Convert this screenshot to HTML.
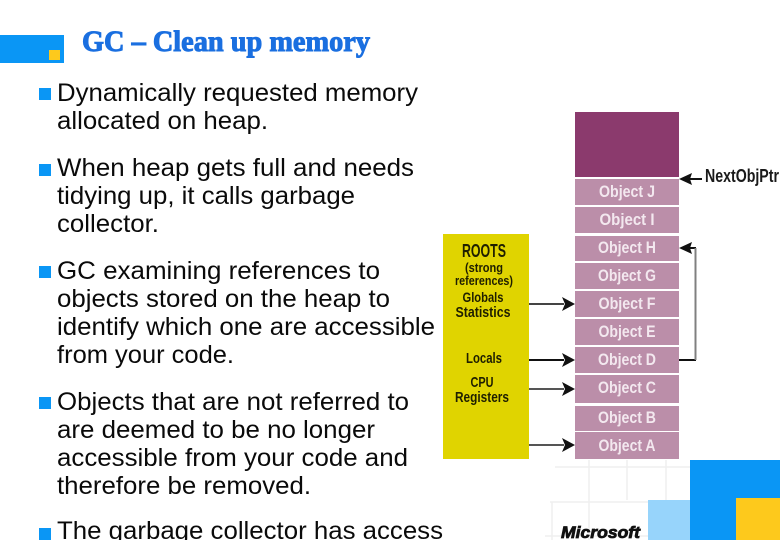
<!DOCTYPE html>
<html><head><meta charset="utf-8"><style>
html,body{margin:0;padding:0;background:#fff;width:780px;height:540px;overflow:hidden}
svg{display:block}
.t{font-family:"Liberation Sans",sans-serif;font-size:24.6px;fill:#0a0a0a}
.o{font-family:"Liberation Sans",sans-serif;font-size:17px;font-weight:bold;fill:#f3e8ef;text-anchor:middle}
.r{font-family:"Liberation Sans",sans-serif;font-weight:bold;fill:#1f1f00;text-anchor:middle}
</style></head><body>
<svg width="780" height="540" viewBox="0 0 780 540" xmlns="http://www.w3.org/2000/svg">
<rect x="0" y="35" width="64" height="28" fill="#0a96f5"/>
<rect x="49" y="50" width="11" height="10" fill="#fdc91c"/>
<text x="82" y="51" font-family="'Liberation Serif',serif" font-size="30" font-weight="bold" fill="#1a6fe0" stroke="#1a6fe0" stroke-width="1" textLength="288" lengthAdjust="spacingAndGlyphs">GC – Clean up memory</text>

<g fill="#0a96f5">
<rect x="39" y="88" width="12" height="12"/><rect x="39" y="164" width="12" height="12"/><rect x="39" y="266" width="12" height="12"/><rect x="39" y="397" width="12" height="12"/><rect x="39" y="528" width="12" height="12"/>
</g>
<g class="t">
<text class="t" x="57" y="101" textLength="361" lengthAdjust="spacingAndGlyphs">Dynamically requested memory</text>
<text class="t" x="57" y="129" textLength="211" lengthAdjust="spacingAndGlyphs">allocated on heap.</text>
<text class="t" x="57" y="176" textLength="357" lengthAdjust="spacingAndGlyphs">When heap gets full and needs</text>
<text class="t" x="57" y="204" textLength="298" lengthAdjust="spacingAndGlyphs">tidying up, it calls garbage</text>
<text class="t" x="57" y="232" textLength="102" lengthAdjust="spacingAndGlyphs">collector.</text>
<text class="t" x="57" y="279" textLength="323" lengthAdjust="spacingAndGlyphs">GC examining references to</text>
<text class="t" x="57" y="307" textLength="333" lengthAdjust="spacingAndGlyphs">objects stored on the heap to</text>
<text class="t" x="57" y="335" textLength="378" lengthAdjust="spacingAndGlyphs">identify which one are accessible</text>
<text class="t" x="57" y="363" textLength="177" lengthAdjust="spacingAndGlyphs">from your code.</text>
<text class="t" x="57" y="410" textLength="352" lengthAdjust="spacingAndGlyphs">Objects that are not referred to</text>
<text class="t" x="57" y="438" textLength="318" lengthAdjust="spacingAndGlyphs">are deemed to be no longer</text>
<text class="t" x="57" y="466" textLength="351" lengthAdjust="spacingAndGlyphs">accessible from your code and</text>
<text class="t" x="57" y="494" textLength="254" lengthAdjust="spacingAndGlyphs">therefore be removed.</text>
<text class="t" x="57" y="539" textLength="386" lengthAdjust="spacingAndGlyphs">The garbage collector has access</text>
</g>

<!-- grid -->
<g stroke="#efefef" stroke-width="1.5" fill="none">
<path d="M555 467H690M550 502H648M545 536H650M552 502V540M589 460V540M627 460V500M666 460V500"/>
</g>
<rect x="690" y="460" width="90" height="80" fill="#0a96f5"/>
<rect x="648" y="500" width="42" height="40" fill="#97d4fb"/>
<rect x="736" y="498" width="44" height="42" fill="#fdc91c"/>
<text x="561" y="538" font-family="'Liberation Sans',sans-serif" font-size="17" font-weight="bold" font-style="italic" fill="#111" stroke="#111" stroke-width="0.8" textLength="79" lengthAdjust="spacingAndGlyphs">Microsoft</text>

<!-- heap -->
<rect x="575" y="112" width="104" height="65" fill="#8b3a6d"/>
<g fill="#bb8ea9">
<rect x="575" y="179" width="104" height="26"/>
<rect x="575" y="207" width="104" height="26"/>
<rect x="575" y="236" width="104" height="25"/>
<rect x="575" y="263" width="104" height="26"/>
<rect x="575" y="291" width="104" height="26"/>
<rect x="575" y="319" width="104" height="26"/>
<rect x="575" y="347" width="104" height="26"/>
<rect x="575" y="375" width="104" height="28"/>
<rect x="575" y="406" width="104" height="25"/>
<rect x="575" y="432" width="104" height="27"/>
</g>
<g class="o">
<text class="o" x="627" y="197" textLength="56" lengthAdjust="spacingAndGlyphs">Object J</text>
<text class="o" x="627" y="225" textLength="55" lengthAdjust="spacingAndGlyphs">Object I</text>
<text class="o" x="627" y="253" textLength="58" lengthAdjust="spacingAndGlyphs">Object H</text>
<text class="o" x="627" y="281" textLength="58" lengthAdjust="spacingAndGlyphs">Object G</text>
<text class="o" x="627" y="309" textLength="57" lengthAdjust="spacingAndGlyphs">Object F</text>
<text class="o" x="627" y="337" textLength="57" lengthAdjust="spacingAndGlyphs">Object E</text>
<text class="o" x="627" y="365" textLength="58" lengthAdjust="spacingAndGlyphs">Object D</text>
<text class="o" x="627" y="393" textLength="58" lengthAdjust="spacingAndGlyphs">Object C</text>
<text class="o" x="627" y="423" textLength="58" lengthAdjust="spacingAndGlyphs">Object B</text>
<text class="o" x="627" y="451" textLength="57" lengthAdjust="spacingAndGlyphs">Object A</text>
</g>

<!-- roots -->
<rect x="443" y="234" width="86" height="225" fill="#e0d400"/>
<text class="r" x="484" y="257" font-size="18" textLength="44" lengthAdjust="spacingAndGlyphs">ROOTS</text>
<text class="r" x="484" y="272" font-size="13" textLength="38" lengthAdjust="spacingAndGlyphs">(strong</text>
<text class="r" x="484" y="285" font-size="13" textLength="58" lengthAdjust="spacingAndGlyphs">references)</text>
<text class="r" x="483" y="302" font-size="14" textLength="41" lengthAdjust="spacingAndGlyphs">Globals</text>
<text class="r" x="483" y="317" font-size="15" textLength="55" lengthAdjust="spacingAndGlyphs">Statistics</text>
<text class="r" x="484" y="363" font-size="15" textLength="36" lengthAdjust="spacingAndGlyphs">Locals</text>
<text class="r" x="482" y="387" font-size="15" textLength="23" lengthAdjust="spacingAndGlyphs">CPU</text>
<text class="r" x="482" y="402" font-size="15" textLength="54" lengthAdjust="spacingAndGlyphs">Registers</text>

<!-- arrows -->
<g fill="#111">
<path d="M529 303h35v2h-35z" fill="#444"/><path d="M562 297L575 304L562 311L565 304Z"/>
<path d="M529 359h35v2h-35z"/><path d="M562 353L575 360L562 367L565 360Z"/>
<path d="M529 388h35v2h-35z" fill="#555"/><path d="M562 382L575 389L562 396L565 389Z"/>
<path d="M529 444h35v2h-35z" fill="#555"/><path d="M562 438L575 445L562 452L565 445Z"/>
<path d="M679 248L692 242L690 248L692 254Z"/>
<path d="M679 179L692 173L690 179L692 185Z"/>
<path d="M690 178h12v2h-12z"/>
<path d="M690 247h6v2h-6z"/>
<path d="M679 359h17v2h-17z"/>
</g>
<path d="M695.5 248V360" stroke="#808080" stroke-width="2" fill="none"/>
<text x="705" y="182" font-family="'Liberation Sans',sans-serif" font-size="18" font-weight="bold" fill="#1a1a1a" textLength="74" lengthAdjust="spacingAndGlyphs">NextObjPtr</text>
</svg>
</body></html>
